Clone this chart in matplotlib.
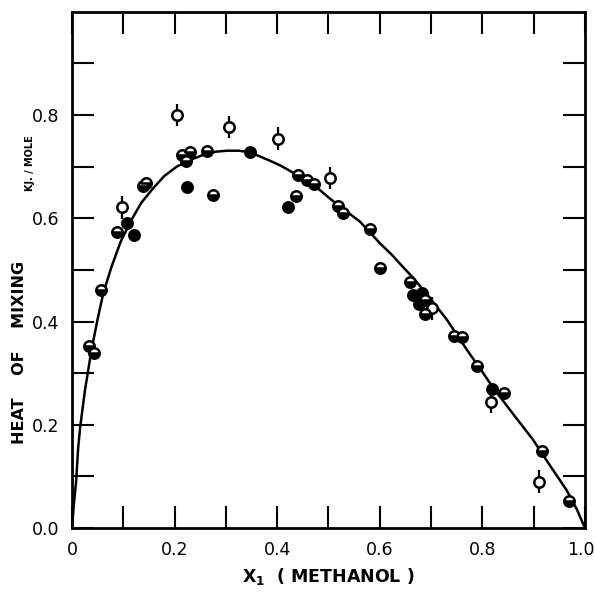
import matplotlib
matplotlib.use("Agg")
import matplotlib.pyplot as plt
import matplotlib.transforms as mtransforms

# Fitted curve
curve_x = [0, 0.004, 0.008, 0.012, 0.016, 0.025, 0.038, 0.05, 0.061, 0.077, 0.095, 0.116,
           0.135, 0.158, 0.18, 0.204, 0.23, 0.256, 0.28, 0.302, 0.325, 0.347, 0.366, 0.385,
           0.405, 0.425, 0.444, 0.463, 0.483, 0.502, 0.522, 0.541, 0.561, 0.58, 0.6, 0.623,
           0.646, 0.665, 0.69, 0.71, 0.73, 0.756, 0.775, 0.795, 0.821, 0.86, 0.899, 0.93,
           0.964, 0.985, 1.0]
curve_y = [0, 0.05, 0.09, 0.155, 0.196, 0.265, 0.345, 0.405, 0.455, 0.506, 0.555, 0.597,
           0.630, 0.658, 0.682, 0.700, 0.713, 0.723, 0.729, 0.731, 0.731, 0.728, 0.720, 0.712,
           0.703, 0.692, 0.681, 0.668, 0.655, 0.639, 0.623, 0.609, 0.594, 0.574, 0.552, 0.530,
           0.505, 0.485, 0.455, 0.430, 0.405, 0.366, 0.338, 0.310, 0.272, 0.221, 0.171, 0.124,
           0.074, 0.035, 0.0]

# Open circles with vertical bars
open_x = [0.097, 0.204, 0.306, 0.402, 0.503, 0.702, 0.816, 0.911]
open_y = [0.621, 0.800, 0.777, 0.754, 0.678, 0.426, 0.245, 0.090]

# Filled circles
filled_x = [0.107, 0.120, 0.224, 0.348, 0.422, 0.665, 0.682, 0.677, 0.818]
filled_y = [0.590, 0.568, 0.660, 0.729, 0.621, 0.452, 0.455, 0.435, 0.269]

# Half-filled circles
half_x = [0.034, 0.042, 0.056, 0.087, 0.139, 0.144, 0.214, 0.222, 0.231, 0.264, 0.274,
          0.436, 0.441, 0.459, 0.472, 0.518, 0.528, 0.581, 0.600, 0.659, 0.688, 0.688,
          0.745, 0.760, 0.789, 0.843, 0.916, 0.969]
half_y = [0.353, 0.340, 0.461, 0.574, 0.663, 0.668, 0.723, 0.712, 0.729, 0.731, 0.645,
          0.644, 0.684, 0.674, 0.666, 0.624, 0.610, 0.579, 0.503, 0.477, 0.442, 0.415,
          0.372, 0.371, 0.313, 0.261, 0.150, 0.053]

x_ticks = [0, 0.2, 0.4, 0.6, 0.8, 1.0]
x_ticklabels = ["0", "0.2", "0.4", "0.6", "0.8", "1.0"]
y_ticks = [0.0, 0.2, 0.4, 0.6, 0.8]
y_ticklabels = ["0.0", "0.2", "0.4", "0.6", "0.8"]

fig = plt.figure(figsize=(5.95, 5.92), dpi=100)
ax = fig.add_axes([0.121, 0.108, 0.862, 0.872])

ax.plot(curve_x, curve_y, color="black", lw=1.8, zorder=2)

ax.errorbar(open_x, open_y, yerr=0.022, fmt="none", ecolor="black", elinewidth=1.6,
            capsize=0, zorder=3)
ax.plot(open_x, open_y, "o", ms=7.5, mfc="white", mec="black", mew=1.8, zorder=4)
ax.plot(filled_x, filled_y, "o", ms=7.5, mfc="black", mec="black", mew=1.8, zorder=4)
ax.plot(half_x, half_y, "o", ms=7.5, fillstyle="bottom", mfc="black",
        markerfacecoloralt="white", mec="black", mew=1.8, zorder=4)

ax.set_xlim(0, 1.0)
ax.set_ylim(0, 1.0)
ax.set_xticks([i / 10 for i in range(11)])
ax.set_xticklabels(["" if i % 2 else x_ticklabels[i // 2] for i in range(11)])
ax.set_yticks([i / 10 for i in range(10)])
ax.set_yticklabels(["" if i % 2 else y_ticklabels[i // 2] for i in range(10)])

ax.tick_params(direction="in", length=16, width=1.5, top=True, right=True,
               labelsize=12.5, pad=9)
for s in ax.spines.values():
    s.set_linewidth(2)

# nudge the last x tick label ("1.0") left so it stays inside the figure
last = ax.get_xticklabels()[-1]
last.set_transform(last.get_transform() +
                   mtransforms.ScaledTranslation(-4 / 100, 0, fig.dpi_scale_trans))

ax.set_xlabel(r"X$_{\mathbf{1}}$  ( METHANOL )", fontsize=12.5, fontweight="bold",
              labelpad=5)
fig.text(0.032, 0.405, "HEAT    OF    MIXING", rotation=90, fontsize=11.5,
         fontweight="bold", ha="center", va="center")
fig.text(0.050, 0.725, "KJ. / MOLE", rotation=90, fontsize=7, fontweight="bold",
         ha="center", va="center")

fig.savefig("out.png", dpi=100)
